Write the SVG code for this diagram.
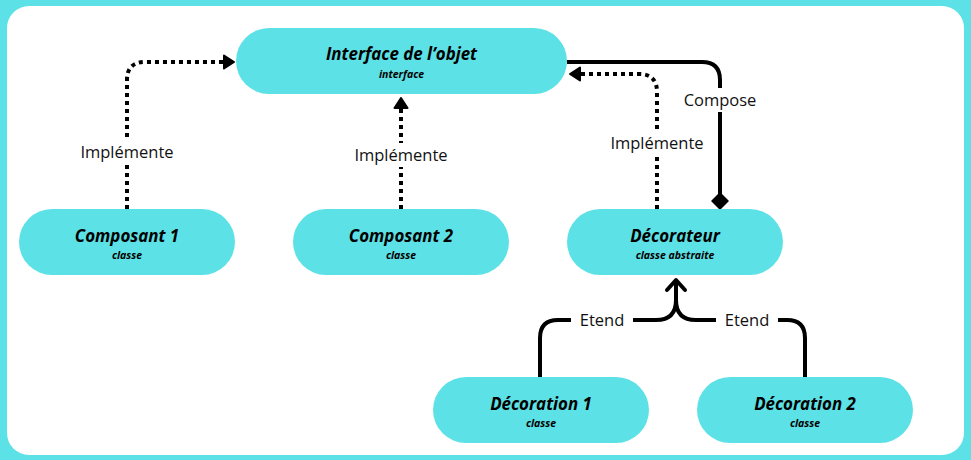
<svg xmlns="http://www.w3.org/2000/svg" width="971" height="460" viewBox="0 0 971 460">
<style>
.node{fill:#5ce1e6}
.t{font-family:"Open Sans","DejaVu Sans",sans-serif;font-weight:700;font-style:italic;font-size:16.9px;fill:#000;text-anchor:middle}
.s{font-family:"Open Sans","DejaVu Sans",sans-serif;font-weight:700;font-style:italic;font-size:10.5px;fill:#000;text-anchor:middle}
.lbl{font-family:"Open Sans","DejaVu Sans",sans-serif;font-size:16.5px;fill:#111;text-anchor:middle}
.dot{fill:none;stroke:#000;stroke-width:4;stroke-dasharray:4 4}
.sol{fill:none;stroke:#000;stroke-width:4}
</style>
<defs>
<marker id="tri" viewBox="0 0 12 16" refX="1" refY="8" markerWidth="12" markerHeight="16" markerUnits="userSpaceOnUse" orient="auto">
<path d="M1,1.5 L11,8 L1,14.5 Z" fill="#000" stroke="#000" stroke-width="2" stroke-linejoin="round"/>
</marker>
</defs>
<rect x="0" y="0" width="971" height="460" fill="#5ce1e6"/>
<rect x="7" y="6" width="957" height="449" rx="22" fill="#fff"/>
<g id="connectors">
<path class="dot" d="M127,209 V80 Q127,62 145,62 H224" marker-end="url(#tri)"/>
<path class="dot" d="M401,209 V108" marker-end="url(#tri)"/>
<path class="dot" d="M657,209 V92 Q657,74 639,74 H580" marker-end="url(#tri)"/>
<path class="sol" d="M567,62 H702 Q720,62 720,80 V195"/>
<path d="M720,193 L728,201 L720,209 L712,201 Z" fill="#000" stroke="#000" stroke-width="1.5" stroke-linejoin="round"/>
<path class="sol" d="M540,377 V338 Q540,320 558,320 H656 Q676,320 676,300 V280"/>
<path class="sol" d="M805,377 V338 Q805,320 787,320 H696 Q676,320 676,300"/>
<path class="sol" d="M667,290 L676,280 L685,290" stroke-linejoin="round" stroke-linecap="round"/>
<rect x="75" y="140" width="104" height="24" fill="#fff"/>
<text class="lbl" x="127" y="158">Implémente</text>
<rect x="349" y="143" width="104" height="24" fill="#fff"/>
<text class="lbl" x="401" y="161">Implémente</text>
<rect x="605" y="131" width="104" height="24" fill="#fff"/>
<text class="lbl" x="657" y="149">Implémente</text>
<rect x="680" y="88" width="80" height="24" fill="#fff"/>
<text class="lbl" x="720" y="106">Compose</text>
<rect x="571" y="308" width="62" height="24" fill="#fff"/>
<text class="lbl" x="602" y="326">Etend</text>
<rect x="716" y="308" width="62" height="24" fill="#fff"/>
<text class="lbl" x="747" y="326">Etend</text>
</g>
<g id="interface">
<rect class="node" x="236" y="28" width="331" height="66" rx="33"/>
<text class="t" x="401.5" y="60">Interface de l’objet</text>
<text class="s" x="401.5" y="78">interface</text>
</g>
<g id="composant1">
<rect class="node" x="19" y="209" width="216" height="66" rx="33"/>
<text class="t" x="127" y="242">Composant 1</text>
<text class="s" x="127" y="259">classe</text>
</g>
<g id="composant2">
<rect class="node" x="293" y="209" width="216" height="66" rx="33"/>
<text class="t" x="401" y="242">Composant 2</text>
<text class="s" x="401" y="259">classe</text>
</g>
<g id="decorateur">
<rect class="node" x="567" y="209" width="216" height="66" rx="33"/>
<text class="t" x="675" y="242">Décorateur</text>
<text class="s" x="675" y="259">classe abstraite</text>
</g>
<g id="decoration1">
<rect class="node" x="433" y="377" width="216" height="66" rx="33"/>
<text class="t" x="541" y="410">Décoration 1</text>
<text class="s" x="541" y="427">classe</text>
</g>
<g id="decoration2">
<rect class="node" x="697" y="377" width="216" height="66" rx="33"/>
<text class="t" x="805" y="410">Décoration 2</text>
<text class="s" x="805" y="427">classe</text>
</g>
</svg>
